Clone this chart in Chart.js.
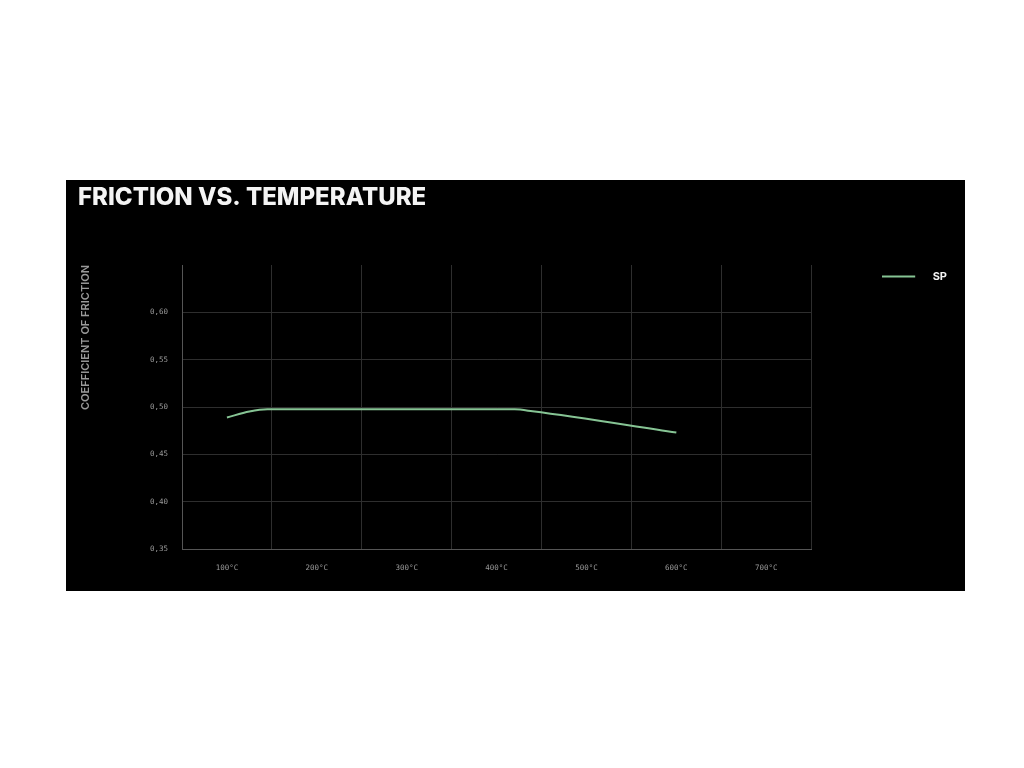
<!DOCTYPE html>
<html>
<head>
<meta charset="utf-8">
<script src="https://cdn.jsdelivr.net/npm/chart.js@4.4.1/dist/chart.umd.min.js"></script>
<style>
  html, body { margin: 0; padding: 0; background: #ffffff; }
  #box { position: absolute; left: 66px; top: 180px; width: 899px; height: 411px; background: #000000; }
  #c { display: block; }
</style>
</head>
<body>
<div id="box"><canvas id="c"></canvas></div>
<script>
// ---- data ----
const temperatureLabels = ['100°C', '200°C', '300°C', '400°C', '500°C', '600°C', '700°C'];
const spTemperatures = [100, 125, 145, 420, 440, 600];
const spFriction = [0.489, 0.4952, 0.4975, 0.4975, 0.4955, 0.473];
const yTicksMin = 0.35;
const yTicksMax = 0.65;
const yTickStep = 0.05;
const seriesName = 'SP';
const chartTitle = 'FRICTION VS. TEMPERATURE';
const yAxisTitle = 'COEFFICIENT OF FRICTION';

const lineColor = '#86c494';

// legend swatch: a short line on a wider transparent canvas
const swatch = document.createElement('canvas');
swatch.width = 45; swatch.height = 4;
(function () {
  const g = swatch.getContext('2d');
  g.strokeStyle = lineColor;
  g.lineWidth = 2;
  g.beginPath(); g.moveTo(0, 2); g.lineTo(33, 2); g.stroke();
})();

const points = spTemperatures.map((t, i) => ({ x: t, y: spFriction[i] }));

new Chart(document.getElementById('c'), {
  type: 'line',
  data: {
    labels: temperatureLabels,
    datasets: [{
      label: seriesName,
      data: points,
      xAxisID: 'xt',
      yAxisID: 'y',
      borderColor: lineColor,
      backgroundColor: lineColor,
      borderWidth: 2,
      pointRadius: 0,
      cubicInterpolationMode: 'monotone',
      fill: false
    }]
  },
  options: {
    responsive: true,
    maintainAspectRatio: false,
    animation: false,
    layout: { padding: { left: 12, right: 8, top: 0, bottom: 3 } },
    plugins: {
      title: {
        display: true,
        text: chartTitle,
        align: 'start',
        color: '#f4f4f4',
        font: { family: 'Inter', size: 24, weight: '800', lineHeight: 1 },
        padding: { top: 6, bottom: 55 }
      },
      legend: {
        display: true,
        position: 'right',
        align: 'start',
        title: { display: true, text: ' ', font: { size: 10, lineHeight: 1 }, padding: { top: 10, bottom: 0 } },
        labels: {
          usePointStyle: true,
          pointStyle: swatch,
          pointStyleWidth: 45,
          padding: 71,
          color: '#f4f4f4',
          font: { family: 'Inter', size: 11, weight: '700' }
        }
      },
      tooltip: { enabled: false }
    },
    scales: {
      x: {
        type: 'category',
        labels: temperatureLabels,
        offset: true,
        position: 'bottom',
        grid: {
          offset: true,
          drawTicks: false,
          color: (ctx) => (ctx.index === temperatureLabels.length ? 'rgba(0,0,0,0)' : '#2e2e2e'),
          lineWidth: 1
        },
        border: { display: true, color: '#555555', width: 1 },
        ticks: {
          color: '#9a9a9a',
          padding: 15,
          font: { family: 'DejaVu Sans Mono', size: 7.5 }
        }
      },
      xt: {
        type: 'linear',
        display: false,
        min: 50,
        max: 750
      },
      y: {
        type: 'linear',
        min: yTicksMin,
        max: yTicksMax,
        position: 'left',
        afterFit: (scale) => { scale.width = 104; },
        title: {
          display: true,
          text: yAxisTitle,
          align: 'end',
          color: '#9a9a9a',
          font: { family: 'Inter', size: 11, weight: '600', lineHeight: 1.2 },
          padding: { top: 1, bottom: 0 }
        },
        grid: {
          drawTicks: false,
          color: (ctx) => (ctx.tick && ctx.tick.value > yTicksMax - 0.001 ? 'rgba(0,0,0,0)' : '#2e2e2e'),
          lineWidth: 1
        },
        border: { display: true, color: '#555555', width: 1 },
        ticks: {
          stepSize: yTickStep,
          color: '#9a9a9a',
          padding: 14,
          font: { family: 'DejaVu Sans Mono', size: 7.5 },
          callback: (v) => (v > yTicksMax - 0.001 ? '' : Number(v).toFixed(2).replace('.', ','))
        }
      }
    }
  }
});
</script>
</body>
</html>
